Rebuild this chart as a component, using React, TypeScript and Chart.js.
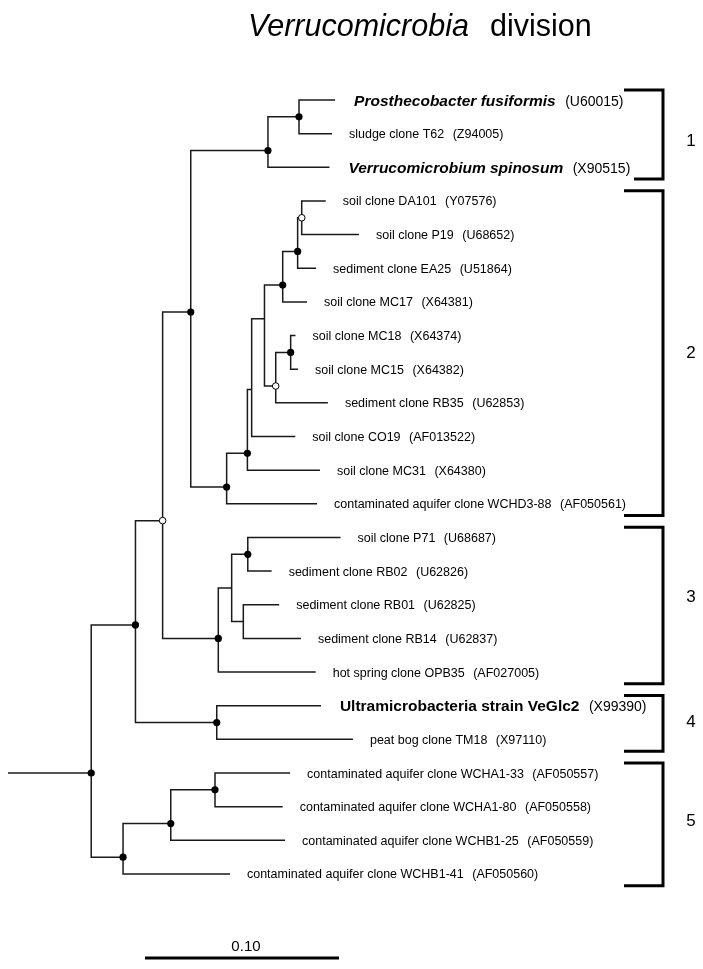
import React, { useEffect, useRef } from 'react';
import { Chart, registerables } from 'chart.js';

Chart.register(...registerables);

// ---------- DATA ----------
const titleItalic = 'Verrucomicrobia';
const titleRest = 'division';

const leafNames = [
  'Prosthecobacter fusiformis',
  'sludge clone T62',
  'Verrucomicrobium spinosum',
  'soil clone DA101',
  'soil clone P19',
  'sediment clone EA25',
  'soil clone MC17',
  'soil clone MC18',
  'soil clone MC15',
  'sediment clone RB35',
  'soil clone CO19',
  'soil clone MC31',
  'contaminated aquifer clone WCHD3-88',
  'soil clone P71',
  'sediment clone RB02',
  'sediment clone RB01',
  'sediment clone RB14',
  'hot spring clone OPB35',
  'Ultramicrobacteria strain VeGlc2',
  'peat bog clone TM18',
  'contaminated aquifer clone WCHA1-33',
  'contaminated aquifer clone WCHA1-80',
  'contaminated aquifer clone WCHB1-25',
  'contaminated aquifer clone WCHB1-41',
];

const leafAccessions = [
  '(U60015)', '(Z94005)', '(X90515)', '(Y07576)', '(U68652)', '(U51864)',
  '(X64381)', '(X64374)', '(X64382)', '(U62853)', '(AF013522)', '(X64380)',
  '(AF050561)', '(U68687)', '(U62826)', '(U62825)', '(U62837)', '(AF027005)',
  '(X99390)', '(X97110)', '(AF050557)', '(AF050558)', '(AF050559)', '(AF050560)',
];

// n = normal, bi = bold italic, b = bold
const leafStyles = [
  'bi', 'n', 'bi', 'n', 'n', 'n', 'n', 'n', 'n', 'n', 'n', 'n',
  'n', 'n', 'n', 'n', 'n', 'n', 'b', 'n', 'n', 'n', 'n', 'n',
];

// cumulative distance from the left end of the root stem (substitutions/site)
const leafX = [
  0.1686, 0.1670, 0.1657, 0.1638, 0.1809, 0.1588, 0.1541, 0.1482,
  0.1495, 0.1649, 0.1481, 0.1608, 0.1593, 0.1714, 0.1359, 0.1398,
  0.1510, 0.1586, 0.1613, 0.1778, 0.1454, 0.1416, 0.1428, 0.1144,
];

const nodeIds = ['root', 'A', 'B', 'C', 'D', 'E', 'F', 'G', 'H', 'I', 'J', 'K', 'L', 'M', 'N', 'O', 'P', 'Q', 'R', 'S', 'T', 'U', 'V'];
const nodeX = [0.0429, 0.0657, 0.0797, 0.1076, 0.0942, 0.1084, 0.1340, 0.1127, 0.1500, 0.1234, 0.1256, 0.1322, 0.1416, 0.1380, 0.1493, 0.1514, 0.1457, 0.1153, 0.1236, 0.1213, 0.0593, 0.0839, 0.1067];
const nodeY = [20.0, 15.6, 12.5, 18.5, 6.3, 16.0, 1.5, 11.5, 0.5, 10.5, 8.6, 6.5, 5.5, 8.5, 4.5, 3.5, 7.5, 14.5, 13.5, 15.5, 22.5, 21.5, 20.5];
// children: number = leaf index, string = internal node id
const nodeChildren: (number | string)[][] = [
  ['A', 'T'], ['B', 'C'], ['D', 'E'], [18, 19], ['F', 'G'], ['Q', 17], ['H', 2], ['I', 12],
  [0, 1], ['J', 11], ['K', 10], ['L', 'M'], ['N', 6], ['P', 9], ['O', 5], [3, 4], [7, 8],
  ['R', 'S'], [13, 14], [15, 16], ['U', 23], ['V', 22], [20, 21],
];
// f = filled (well supported), o = open, '' = none
const nodeSupport = ['f', 'f', 'o', 'f', 'f', 'f', 'f', 'f', 'f', 'f', '', '', 'f', 'o', 'f', 'o', 'f', '', 'f', '', 'f', 'f', 'f'];

const rootStemStart = 0;

const clusterLabels = ['1', '2', '3', '4', '5'];
const clusterFirst = [0, 3, 13, 18, 20];
const clusterLast = [2, 12, 17, 19, 23];

const scaleBarStart = 0.0706;
const scaleBarLength = 0.10;
const scaleBarLabel = '0.10';

// ---------- LAYOUT ----------
const W = 703;
const H = 969;
const PX_PER_UNIT = 1940;
const ROW = 33.65;
const X_MIN = -8 / PX_PER_UNIT;
const X_MAX = (W - 8) / PX_PER_UNIT;
const Y_MIN = -100 / ROW;
const Y_MAX = (H - 100) / ROW;
const BRACKET_X = (663 - 8) / PX_PER_UNIT;
const BRACKET_LEFT = (624 - 8) / PX_PER_UNIT;
const BRACKET_LEFT_FIRST_BOTTOM = (634 - 8) / PX_PER_UNIT;
const CLUSTER_LABEL_ROW = [1.2, 7.5, 14.75, 18.45, 21.4];
const SCALE_ROW = 25.5;
const FONT = '"Liberation Sans", Arial, Helvetica, sans-serif';
const LINE = '#1a1a1a';

function pos(c: number | string) {
  if (typeof c === 'number') return { x: leafX[c], y: c };
  const k = nodeIds.indexOf(c);
  return { x: nodeX[k], y: nodeY[k] };
}

function buildDatasets() {
  const ds: any[] = [];
  const filled = nodeIds.map((_, i) => i).filter(i => nodeSupport[i] === 'f').map(i => ({ x: nodeX[i], y: nodeY[i] }));
  const open = nodeIds.map((_, i) => i).filter(i => nodeSupport[i] === 'o').map(i => ({ x: nodeX[i], y: nodeY[i] }));
  ds.push({ data: filled, showLine: false, pointRadius: 3.6, pointBackgroundColor: '#000', pointBorderWidth: 0, order: 0 });
  ds.push({ data: open, showLine: false, pointRadius: 3.3, pointBackgroundColor: '#fff', pointBorderColor: '#000', pointBorderWidth: 1, order: 0 });
  const lineStyle = { showLine: true, pointRadius: 0, borderColor: LINE, borderWidth: 1.5, tension: 0, fill: false, order: 1 };
  nodeIds.forEach((_, i) => {
    const [a, b] = nodeChildren[i].map(pos);
    ds.push({ ...lineStyle, data: [a, { x: nodeX[i], y: a.y }, { x: nodeX[i], y: b.y }, b] });
  });
  ds.push({ ...lineStyle, data: [{ x: rootStemStart, y: nodeY[0] }, { x: nodeX[0], y: nodeY[0] }] });
  ds.push({ ...lineStyle, borderColor: '#000', borderWidth: 3, data: [{ x: scaleBarStart, y: SCALE_ROW }, { x: scaleBarStart + scaleBarLength, y: SCALE_ROW }] });
  clusterLabels.forEach((_, i) => {
    const top = clusterFirst[i] - 0.3;
    const bot = clusterLast[i] + 0.35;
    ds.push({
      ...lineStyle, borderColor: '#000', borderWidth: 3,
      data: [
        { x: BRACKET_LEFT, y: top }, { x: BRACKET_X, y: top }, { x: BRACKET_X, y: bot },
        { x: i === 0 ? BRACKET_LEFT_FIRST_BOTTOM : BRACKET_LEFT, y: bot },
      ],
    });
  });
  return ds;
}

const textPlugin = {
  id: 'treeText',
  afterDatasetsDraw(chart: any) {
    const ctx = chart.ctx as CanvasRenderingContext2D;
    const xs = chart.scales.x;
    const ys = chart.scales.y;
    ctx.save();
    ctx.fillStyle = '#000';
    ctx.textAlign = 'left';
    ctx.textBaseline = 'alphabetic';

    ctx.font = `italic 30.5px ${FONT}`;
    ctx.fillText(titleItalic, 248, 36);
    ctx.font = `30.5px ${FONT}`;
    ctx.fillText(titleRest, 490, 36);

    leafNames.forEach((name, i) => {
      const st = leafStyles[i];
      const size = st === 'n' ? 12.5 : 15.5;
      const x = xs.getPixelForValue(leafX[i]) + (st === 'n' ? 17 : 19);
      const y = ys.getPixelForValue(i);
      const base = y + size * 0.36;
      ctx.font = `${st === 'bi' ? 'italic bold ' : st === 'b' ? 'bold ' : ''}${size}px ${FONT}`;
      ctx.fillText(name, x, base);
      const w = ctx.measureText(name).width;
      const accSize = st === 'n' ? 12.5 : 14;
      ctx.font = `${accSize}px ${FONT}`;
      ctx.fillText(leafAccessions[i], x + w + (st === 'n' ? 8.5 : 9.5), base);
    });

    ctx.textAlign = 'center';
    ctx.font = `17px ${FONT}`;
    clusterLabels.forEach((lab, i) => {
      const y = ys.getPixelForValue(CLUSTER_LABEL_ROW[i]);
      ctx.fillText(lab, 691, y + 6);
    });

    ctx.font = `15px ${FONT}`;
    const cx = (xs.getPixelForValue(scaleBarStart) + xs.getPixelForValue(scaleBarStart + scaleBarLength)) / 2;
    ctx.fillText(scaleBarLabel, cx + 4, ys.getPixelForValue(SCALE_ROW) - 7);
    ctx.restore();
  },
};

export default function App() {
  const ref = useRef<HTMLCanvasElement>(null);
  useEffect(() => {
    if (!ref.current) return;
    const chart = new Chart(ref.current, {
      type: 'scatter',
      data: { datasets: buildDatasets() },
      options: {
        animation: false,
        responsive: false,
        devicePixelRatio: 1,
        events: [],
        layout: { padding: 0, autoPadding: false },
        plugins: { legend: { display: false }, tooltip: { enabled: false }, title: { display: false } },
        scales: {
          x: { type: 'linear', display: false, min: X_MIN, max: X_MAX },
          y: { type: 'linear', display: false, min: Y_MIN, max: Y_MAX, reverse: true },
        },
      } as any,
      plugins: [textPlugin],
    });
    return () => chart.destroy();
  }, []);
  return (
    <div style={{ position: 'absolute', left: 0, top: 0, width: W, height: H, background: '#fff' }}>
      <canvas ref={ref} width={W} height={H} style={{ display: 'block' }} />
    </div>
  );
}
